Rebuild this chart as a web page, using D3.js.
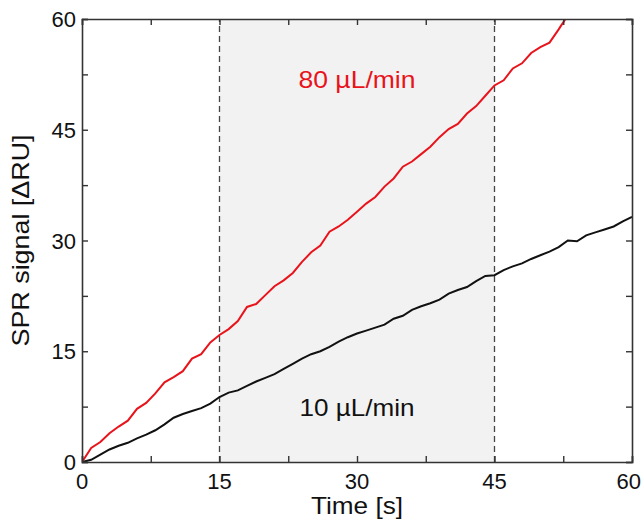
<!DOCTYPE html>
<html>
<head>
<meta charset="utf-8">
<script src="https://cdn.jsdelivr.net/npm/d3@7"></script>
<style>
html,body{margin:0;padding:0;background:#fff;}
svg text{font-family:"Liberation Sans",Arial,sans-serif;}
</style>
</head>
<body>
<svg id="chart" width="642" height="520"></svg>
<script>
const time = d3.range(0, 61, 1);
const black10 = [0,0.3,1.0,1.7,2.2,2.6,3.2,3.7,4.3,5.1,6.0,6.5,6.9,7.3,7.9,8.8,9.4,9.7,10.3,10.9,
  11.4,11.9,12.6,13.3,14.0,14.6,15.0,15.6,16.3,16.9,17.4,17.8,18.2,18.6,19.4,19.8,20.6,21.1,21.5,22.0,
  22.8,23.3,23.7,24.5,25.2,25.3,26.0,26.5,26.9,27.5,28.0,28.5,29.1,30.0,29.9,30.7,31.1,31.5,31.9,32.6,33.2];
const red80 = [0,1.9,2.7,3.9,4.8,5.6,7.2,8.0,9.3,10.8,11.5,12.3,14.0,14.6,16.2,17.2,18.0,19.1,21.0,21.4,
  22.6,23.8,24.6,25.6,27.1,28.4,29.3,31.2,31.9,32.8,33.9,35.0,35.9,37.3,38.4,40.0,40.7,41.7,42.7,44.0,
  45.1,45.8,47.2,48.2,49.6,51.0,51.7,53.3,54.0,55.4,56.2,56.8,58.6,60.5,61.5];
const xTicks = [0, 15, 30, 45, 60];
const yTicks = [0, 15, 30, 45, 60];
const minorTicks = [0, 7.5, 15, 22.5, 30, 37.5, 45, 52.5, 60];
const shade = [15, 45];
const labels = [{text: "80 µL/min", color: "#e8131b", t: 30, v: 50.6, w: 117},
                {text: "10 µL/min", color: "#111", t: 30, v: 6.2, w: 115}];

const svg = d3.select("#chart");
const x = d3.scaleLinear().domain([0, 60]).range([82, 632]);
const y = d3.scaleLinear().domain([0, 60]).range([462, 19]);

const defs = svg.append("defs");
defs.append("clipPath").attr("id", "clip").append("rect")
  .attr("x", x(0)).attr("y", y(60)).attr("width", x(60) - x(0)).attr("height", y(0) - y(60));

// shaded region
svg.append("rect").attr("x", x(shade[0])).attr("y", y(60))
  .attr("width", x(shade[1]) - x(shade[0])).attr("height", y(0) - y(60))
  .attr("fill", "#f2f2f2");

// dashed lines
svg.selectAll("line.dash").data(shade).enter().append("line")
  .attr("x1", d => x(d)).attr("x2", d => x(d)).attr("y1", y(0)).attr("y2", y(60))
  .attr("stroke", "#444").attr("stroke-width", 1.3).attr("stroke-dasharray", "6,4");

// lines
const line = d3.line().x((d, i) => x(time[i])).y(d => y(d));
const g = svg.append("g").attr("clip-path", "url(#clip)");
g.append("path").datum(black10).attr("d", line).attr("fill", "none")
  .attr("stroke", "#111").attr("stroke-width", 2);
g.append("path").datum(red80).attr("d", line).attr("fill", "none")
  .attr("stroke", "#e8131b").attr("stroke-width", 2);

// axes with inward ticks
const tl = 6;
const axB = svg.append("g").attr("transform", `translate(0,${y(0)})`)
  .call(d3.axisBottom(x).tickValues(minorTicks).tickSize(-tl).tickFormat(""));
const axT = svg.append("g").attr("transform", `translate(0,${y(60)})`)
  .call(d3.axisTop(x).tickValues(minorTicks).tickSize(-tl).tickFormat(""));
const axL = svg.append("g").attr("transform", `translate(${x(0)},0)`)
  .call(d3.axisLeft(y).tickValues(minorTicks).tickSize(-tl).tickFormat(""));
const axR = svg.append("g").attr("transform", `translate(${x(60)},0)`)
  .call(d3.axisRight(y).tickValues(minorTicks).tickSize(-tl).tickFormat(""));
[axB, axT, axL, axR].forEach(a => {
  a.select(".domain").attr("stroke", "#333").attr("stroke-width", 1.6);
  a.selectAll(".tick line").attr("stroke", "#333").attr("stroke-width", 1.4);
});

// tick labels
svg.selectAll("text.xt").data(xTicks).enter().append("text")
  .attr("x", d => d === 60 ? 641 : x(d)).attr("y", 489)
  .attr("text-anchor", d => d === 60 ? "end" : "middle")
  .attr("font-size", 22).attr("fill", "#111").text(d => d);
svg.selectAll("text.yt").data(yTicks).enter().append("text")
  .attr("x", 76).attr("y", d => y(d) + 8).attr("text-anchor", "end")
  .attr("font-size", 22).attr("fill", "#111").text(d => d);

// axis titles
svg.append("text").attr("x", x(30)).attr("y", 514).attr("text-anchor", "middle")
  .attr("font-size", 24).attr("fill", "#111")
  .attr("textLength", 92).attr("lengthAdjust", "spacingAndGlyphs").text("Time [s]");
svg.append("text").attr("transform", `translate(29,${y(30)}) rotate(-90)`)
  .attr("text-anchor", "middle").attr("font-size", 24).attr("fill", "#111")
  .attr("textLength", 212).attr("lengthAdjust", "spacingAndGlyphs")
  .text("SPR signal [ΔRU]");

// annotations
svg.selectAll("text.lab").data(labels).enter().append("text")
  .attr("x", d => x(d.t)).attr("y", d => y(d.v)).attr("text-anchor", "middle")
  .attr("font-size", 24).attr("fill", d => d.color)
  .attr("textLength", d => d.w).attr("lengthAdjust", "spacingAndGlyphs")
  .text(d => d.text);
</script>
</body>
</html>
